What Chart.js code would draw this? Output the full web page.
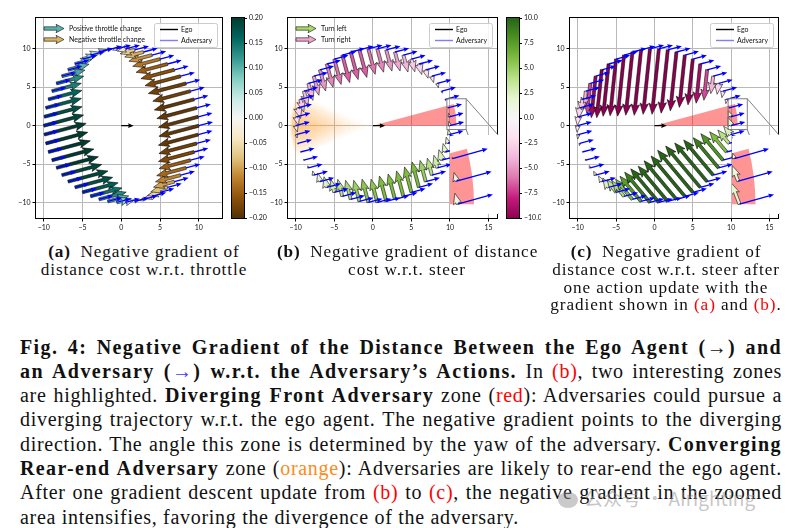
<!DOCTYPE html>
<html><head><meta charset="utf-8">
<script src="https://cdn.jsdelivr.net/npm/chart.js@4.4.0/dist/chart.umd.min.js"></script>
<style>
html,body{margin:0;padding:0;background:#fff;}
#page{position:relative;width:806px;height:528px;overflow:hidden;background:#fff;}
canvas{position:absolute;}
.cap{position:absolute;font-family:'Liberation Serif','Times New Roman',serif;font-size:17.2px;line-height:17.8px;letter-spacing:0.9px;text-align:center;color:#111;white-space:nowrap;}
.para{position:absolute;left:20px;top:334.5px;width:762px;font-family:'Liberation Serif','Times New Roman',serif;font-size:20px;line-height:24.3px;letter-spacing:0.7px;color:#111;}
.para .ln{display:block;white-space:nowrap;}
.para b{letter-spacing:1.4px;}
.red{color:#f00;}
.orange{color:#ff8a1a;}
.blue{color:#3a3aff;}
.wm{position:absolute;left:558px;top:484px;font-family:'Noto Sans CJK SC','Liberation Sans',sans-serif;font-size:19px;color:rgba(150,150,150,0.55);white-space:nowrap;}
.wm i{display:inline-block;width:20px;height:16px;border-radius:50%;background:rgba(150,150,150,0.5);vertical-align:-2px;margin-right:6px;}
</style>
</head><body>
<div id="page">
<canvas id="ca" width="226" height="236" style="left:0;top:0"></canvas>
<canvas id="cba" width="40" height="236" style="left:228px;top:0"></canvas>
<canvas id="cb" width="250" height="236" style="left:252px;top:0"></canvas>
<canvas id="cbb" width="38" height="236" style="left:503px;top:0"></canvas>
<canvas id="cc" width="250" height="236" style="left:534px;top:0"></canvas>
<canvas id="ib" width="48" height="79" style="left:450px;top:135px"></canvas>
<canvas id="ic" width="47" height="79" style="left:732px;top:135px"></canvas>

<div class="cap" style="left:24px;top:243px;width:240px"><b>(a)</b>&ensp;Negative gradient of<br>distance cost w.r.t. throttle</div>
<div class="cap" style="left:277px;top:243px;width:260px"><b>(b)</b>&ensp;Negative gradient of distance<br>cost w.r.t. steer</div>
<div class="cap" style="left:546px;top:243px;width:240px"><b>(c)</b>&ensp;Negative gradient of<br>distance cost w.r.t. steer after<br>one action update with the<br>gradient shown in <span class="red">(a)</span> and <span class="red">(b)</span>.</div>

<div class="para">
<div class="ln j"><span><b>Fig. 4: Negative Gradient of the Distance Between the Ego Agent (→) and</b></span></div>
<div class="ln j"><span><b>an Adversary (<span class="blue">→</span>) w.r.t. the Adversary’s Actions.</b> In <span class="red">(b)</span>, two interesting zones</span></div>
<div class="ln j"><span>are highlighted. <b>Diverging Front Adversary</b> zone (<span class="red">red</span>): Adversaries could pursue a</span></div>
<div class="ln j"><span>diverging trajectory w.r.t. the ego agent. The negative gradient points to the diverging</span></div>
<div class="ln j"><span>direction. The angle this zone is determined by the yaw of the adversary. <b>Converging</b></span></div>
<div class="ln j"><span><b>Rear-end Adversary</b> zone (<span class="orange">orange</span>): Adversaries are likely to rear-end the ego agent.</span></div>
<div class="ln j"><span>After one gradient descent update from <span class="red">(b)</span> to <span class="red">(c)</span>, the negative gradient in the zoomed</span></div>
<div class="ln"><span>area intensifies, favoring the divergence of the adversary.</span></div>
</div>
<div class="wm"><i></i>公众号 · AIrighting</div>
</div>

<script>
// ---------------- data ----------------
const advX = [10.00, 9.93, 9.73, 9.40, 8.94, 8.36, 7.66, 6.86, 5.97, 5.00, 3.96, 2.87, 1.74, 0.58, -0.58, -1.74, -2.87, -3.96, -5.00, -5.97, -6.86, -7.66, -8.36, -8.94, -9.40, -9.73, -9.93, -10.00, -9.93, -9.73, -9.40, -8.94, -8.36, -7.66, -6.86, -5.97, -5.00, -3.96, -2.87, -1.74, -0.58, 0.58, 1.74, 2.87, 3.96, 5.00, 5.97, 6.86, 7.66, 8.36, 8.94, 9.40, 9.73, 9.93];
const advY = [0.00, 1.16, 2.31, 3.42, 4.49, 5.49, 6.43, 7.27, 8.02, 8.66, 9.18, 9.58, 9.85, 9.98, 9.98, 9.85, 9.58, 9.18, 8.66, 8.02, 7.27, 6.43, 5.49, 4.49, 3.42, 2.31, 1.16, 0.00, -1.16, -2.31, -3.42, -4.49, -5.49, -6.43, -7.27, -8.02, -8.66, -9.18, -9.58, -9.85, -9.98, -9.98, -9.85, -9.58, -9.18, -8.66, -8.02, -7.27, -6.43, -5.49, -4.49, -3.42, -2.31, -1.16];
const adversaryYawDeg = 15;
const adversaryArrowLen = 1.9;
const egoArrowLen = 1.6;

const throttleGradA = [-0.19,-0.19,-0.19,-0.19,-0.18,-0.18,-0.17,-0.16,-0.15,-0.13,-0.11,-0.09,-0.07,-0.04,-0.02,0.02,0.04,0.05,0.07,0.08,0.10,0.11,0.13,0.14,0.16,0.17,0.18,0.19,0.20,0.20,0.20,0.20,0.20,0.19,0.19,0.18,0.17,0.15,0.13,0.10,0.07,0.04,0.02,-0.02,-0.04,-0.06,-0.08,-0.10,-0.12,-0.14,-0.15,-0.17,-0.18,-0.19];
const steerGradB = [1.0,0.8,0.1,-0.3,-0.5,-1.0,-1.5,-2.0,-2.5,-3.0,-4.0,-4.5,-5.0,-5.5,-6.0,-6.5,-6.5,-6.5,-6.0,-5.5,-5.0,-4.5,-4.0,-3.5,-3.0,-2.5,-2.0,-1.5,-0.8,-0.2,0.0,0.2,0.5,1.0,2.0,2.5,3.0,4.0,4.5,5.0,5.5,5.5,6.0,6.0,6.0,6.0,6.0,5.0,4.0,3.0,2.5,2.0,1.5,1.2];
const steerGradC = [2.0,1.5,0.5,-1.0,-1.5,-2.5,-4.0,-7.0,-9.0,-10.5,-12.0,-13.5,-14.5,-15.0,-15.0,-15.0,-14.5,-14.0,-13.0,-12.0,-11.0,-9.5,-7.0,-4.0,-3.0,-2.5,-2.0,-1.5,-1.0,-0.5,0.0,0.3,0.6,1.0,1.5,2.5,3.5,4.5,6.0,7.5,9.0,10.0,10.5,11.5,12.0,12.5,12.3,11.5,10.5,9.0,7.9,6.0,4.0,2.5];
const steerDirC = [112,112,110,-100,-100,-98,-98,-96,-96,-96,-96,-96,-96,-96,-96,-96,-96,-96,-96,-96,-96,-96,-96,-96,-96,-96,-96,-96,-96,-96,110,112,115,118,120,122,125,128,130,130,130,130,130,130,130,130,130,130,130,130,130,130,130,130];
const throttleArrowScale = 28;   // data units per gradient unit
const steerArrowScale = 0.57;

const redZone = {radius: 10.85, fromDeg: 0, toDeg: 15};
const orangeZone = {radius: 10.8, centerDeg: 180, halfWidthDeg: 22};
const insetRegion = {xMin: 9.6, xMax: 12.1, yMin: -0.5, yMax: 3.5};

const xTicksA = [-10,-5,0,5,10];
const xTicksBC = [-10,-5,0,5,10,15];
const yTicks = [-10,-5,0,5,10];
const cbTicksA = [-0.2,-0.15,-0.1,-0.05,0,0.05,0.1,0.15,0.2];
const cbTicksB = [-10,-7.5,-5,-2.5,0,2.5,5,7.5,10];

// ---------------- styles ----------------
const BrBG = ['#543005','#8c510a','#bf812d','#dfc27d','#f6e8c3','#f5f5f5','#c7eae5','#80cdc1','#35978f','#01665e','#003c30'];
const PiYG = ['#8e0152','#c51b7d','#de77ae','#f1b6da','#fde0ef','#f7f7f7','#e6f5d0','#b8e186','#7fbc41','#4d9221','#276419'];
const FONT = 'Lato';

function hexRgb(h){return [parseInt(h.substr(1,2),16),parseInt(h.substr(3,2),16),parseInt(h.substr(5,2),16)];}
function cmap(stops,t){
  t=Math.max(0,Math.min(1,t));
  const f=t*(stops.length-1); const i=Math.min(Math.floor(f),stops.length-2); const r=f-i;
  const a=hexRgb(stops[i]), b=hexRgb(stops[i+1]);
  return 'rgb('+a.map((v,k)=>Math.round(v+(b[k]-v)*r)).join(',')+')';
}
function fmt(v,d){const s=(d===undefined?String(Math.abs(v)):Math.abs(v).toFixed(d)); return (v<0?'\u2212':'')+s;}

function drawArrow(ctx,x0,y0,dx,dy,o){
  const L=Math.hypot(dx,dy); if(L<0.4) return;
  const ux=dx/L, uy=dy/L, nx=-uy, ny=ux;
  let sw=o.sw,hw=o.hw,hl=o.hl,ha=o.ha;
  if(L<hl){const s=L/hl; sw*=s; hw*=s; hl*=s; ha*=s;}
  const P=(a,b)=>[x0+ux*a+nx*b, y0+uy*a+ny*b];
  const pts=[P(0,sw/2),P(L-ha,sw/2),P(L-hl,hw/2),P(L,0),P(L-hl,-hw/2),P(L-ha,-sw/2),P(0,-sw/2)];
  ctx.beginPath(); pts.forEach((p,i)=>i?ctx.lineTo(p[0],p[1]):ctx.moveTo(p[0],p[1])); ctx.closePath();
  ctx.fillStyle=o.fill; ctx.fill();
  if(o.stroke){ctx.lineWidth=o.lw; ctx.strokeStyle=o.stroke; ctx.lineJoin='miter'; ctx.stroke();}
}
const gradStyle={sw:3.0,hw:8.5,hl:11,ha:9.5,stroke:'#000',lw:0.55};
const blueStyle={sw:1.3,hw:4.6,hl:5.5,ha:5,fill:'#0000ff'};
const egoStyle={sw:1.3,hw:4.8,hl:5.5,ha:5,fill:'#000'};

function makePlugin(cfg){
  return {
    id:'quiver_'+cfg.name,
    beforeDraw(chart){
      if(cfg.whiteBg){const c=chart.ctx; c.save(); c.fillStyle='#fff'; c.fillRect(0,0,chart.width,chart.height); c.restore();}
    },
    beforeDatasetsDraw(chart){
      const {ctx,chartArea:ca,scales:{x:xs,y:ys}}=chart;
      ctx.save(); ctx.beginPath(); ctx.rect(ca.left,ca.top,ca.right-ca.left,ca.bottom-ca.top); ctx.clip();
      const cx=xs.getPixelForValue(0), cy=ys.getPixelForValue(0);
      if(cfg.orange){
        const z=orangeZone;
        const rx=xs.getPixelForValue(z.radius)-cx, ry=cy-ys.getPixelForValue(z.radius);
        const layers=8;
        for(let i=1;i<=layers;i++){
          const h=z.halfWidthDeg*i/layers*Math.PI/180, c0=z.centerDeg*Math.PI/180;
          const g=ctx.createRadialGradient(cx,cy,0,cx,cy,rx);
          g.addColorStop(0,'rgba(255,160,50,0)');
          g.addColorStop(0.35,'rgba(255,160,50,0.025)');
          g.addColorStop(0.85,'rgba(255,160,50,0.095)');
          g.addColorStop(0.96,'rgba(255,160,50,0.08)');
          g.addColorStop(1,'rgba(255,160,50,0)');
          ctx.beginPath(); ctx.moveTo(cx,cy);
          ctx.ellipse(cx,cy,rx,ry,0,-(c0+h),-(c0-h));
          ctx.closePath(); ctx.fillStyle=g; ctx.fill();
        }
      }
      if(cfg.red){
        const z=redZone;
        const rx=xs.getPixelForValue(z.radius)-cx, ry=cy-ys.getPixelForValue(z.radius);
        ctx.beginPath(); ctx.moveTo(cx,cy);
        ctx.ellipse(cx,cy,rx,ry,0,-z.toDeg*Math.PI/180,-z.fromDeg*Math.PI/180);
        ctx.closePath(); ctx.fillStyle='rgba(255,0,0,0.42)'; ctx.fill();
      }
      ctx.restore();
    },
    afterDatasetsDraw(chart){
      const {ctx,chartArea:ca,scales:{x:xs,y:ys}}=chart;
      const pts=chart.data.datasets[0].data;
      const vec=(x,y,len,deg)=>{const a=deg*Math.PI/180; return [xs.getPixelForValue(x+len*Math.cos(a))-xs.getPixelForValue(x), ys.getPixelForValue(y+len*Math.sin(a))-ys.getPixelForValue(y)];};
      ctx.save(); ctx.beginPath(); ctx.rect(ca.left,ca.top,ca.right-ca.left,ca.bottom-ca.top); ctx.clip();
      pts.forEach((p,i)=>{
        const v=cfg.values[i];
        let dir;
        if(cfg.mode==='throttle') dir = v>=0 ? adversaryYawDeg : adversaryYawDeg+180;
        else if(cfg.mode==='steer') dir = v>=0 ? adversaryYawDeg+90 : adversaryYawDeg-90;
        else dir = cfg.dirs[i];
        const len=Math.abs(v)*cfg.scale;
        const [dx,dy]=vec(p.x,p.y,len,dir);
        const col=cmap(cfg.stops,(v-cfg.vmin)/(cfg.vmax-cfg.vmin));
        drawArrow(ctx,xs.getPixelForValue(p.x),ys.getPixelForValue(p.y),dx,dy,Object.assign({},gradStyle,{fill:col}));
      });
      pts.forEach(p=>{
        const [dx,dy]=vec(p.x,p.y,adversaryArrowLen,adversaryYawDeg);
        drawArrow(ctx,xs.getPixelForValue(p.x),ys.getPixelForValue(p.y),dx,dy,blueStyle);
      });
      {const [dx,dy]=vec(0,0,egoArrowLen,0); drawArrow(ctx,xs.getPixelForValue(0),ys.getPixelForValue(0),dx,dy,egoStyle);}
      ctx.restore();

      ctx.save(); ctx.strokeStyle='#000'; ctx.lineWidth=1;
      ctx.strokeRect(ca.left-0.5,ca.top-0.5,ca.right-ca.left+1,ca.bottom-ca.top+1);
      ctx.restore();
      if(cfg.inset) return;

      if(cfg.insetBox){
        const r=insetRegion, b=cfg.insetBox;
        const x1=xs.getPixelForValue(r.xMin), x2=xs.getPixelForValue(r.xMax), y1=ys.getPixelForValue(r.yMax), y2=ys.getPixelForValue(r.yMin);
        ctx.save(); ctx.strokeStyle='#808080'; ctx.lineWidth=1;
        ctx.strokeRect(x1,y1,x2-x1,y2-y1);
        ctx.beginPath();
        ctx.moveTo(x2,y1); ctx.lineTo(b.left+b.w-cfg.offX, b.top);
        ctx.moveTo(x2,y2); ctx.lineTo(b.left+b.w-cfg.offX, b.top+b.h);
        ctx.stroke(); ctx.restore();
      }
      ctx.save();
      ctx.font='7px '+FONT; ctx.textBaseline='middle'; ctx.fillStyle='#111';
      if(cfg.keys){
        cfg.keys.forEach((k,i)=>{
          const y=ca.top+10.5+i*11;
          drawArrow(ctx,ca.left+8,y,20,0,{sw:3.4,hw:8.5,hl:8,ha:7,fill:k.color,stroke:'#000',lw:0.55});
          ctx.fillStyle='#111'; ctx.fillText(k.label,ca.left+33,y);
        });
      }
      const bx=ca.right-68, by=ca.top+5, bw=63, bh=24;
      ctx.fillStyle='rgba(255,255,255,0.85)'; ctx.strokeStyle='#cccccc'; ctx.lineWidth=1;
      ctx.beginPath(); ctx.roundRect(bx+0.5,by+0.5,bw,bh,2); ctx.fill(); ctx.stroke();
      ctx.lineWidth=1.4;
      ctx.strokeStyle='#000'; ctx.beginPath(); ctx.moveTo(bx+6,by+6.5); ctx.lineTo(bx+24,by+6.5); ctx.stroke();
      ctx.strokeStyle='rgba(40,40,255,0.6)'; ctx.beginPath(); ctx.moveTo(bx+6,by+17.5); ctx.lineTo(bx+24,by+17.5); ctx.stroke();
      ctx.fillStyle='#111';
      ctx.fillText('Ego',bx+27,by+6.5); ctx.fillText('Adversary',bx+27,by+17.5);
      ctx.restore();
    }
  };
}

function axisCfg(min,max,ticks,isX){
  return {
    type:'linear', min, max,
    afterBuildTicks:s=>{s.ticks=ticks.map(v=>({value:v}));},
    afterFit:s=>{ if(isX) s.height=18; else s.width=36; },
    grid:{color:'#b9b9b9',lineWidth:1,tickLength:3.5,tickColor:'#000',tickWidth:1},
    border:{display:false},
    ticks:{font:{family:FONT,size:7},color:'#111',padding:2,maxRotation:0,autoSkip:false,callback:v=>fmt(v)}
  };
}
function posData(){return advX.map((x,i)=>({x,y:advY[i]}));}

function mainChart(id,xmin,xmax,xt,padRight,cfg){
  return new Chart(document.getElementById(id),{
    type:'scatter',
    data:{datasets:[{data:posData(),pointRadius:0,pointHoverRadius:0}]},
    options:{responsive:false,animation:false,devicePixelRatio:1,events:[],
      layout:{padding:{left:0,right:padRight,top:18,bottom:0}},
      plugins:{legend:{display:false},tooltip:{enabled:false}},
      scales:{x:axisCfg(xmin,xmax,xt,true),y:axisCfg(-12,14,yTicks,false)}},
    plugins:[makePlugin(cfg)]
  });
}
function insetChart(id,cfg){
  const r=insetRegion;
  return new Chart(document.getElementById(id),{
    type:'scatter',
    data:{datasets:[{data:posData(),pointRadius:0,pointHoverRadius:0}]},
    options:{responsive:false,animation:false,devicePixelRatio:1,events:[],
      layout:{padding:0},
      plugins:{legend:{display:false},tooltip:{enabled:false}},
      scales:{x:{type:'linear',display:false,min:r.xMin,max:r.xMax},y:{type:'linear',display:false,min:r.yMin,max:r.yMax}}},
    plugins:[makePlugin(Object.assign({},cfg,{inset:true,whiteBg:true}))]
  });
}
function colorbar(id,min,max,ticks,dec,stops,axisW){
  return new Chart(document.getElementById(id),{
    type:'bar',
    data:{labels:['c'],datasets:[{data:[[min,max]],barPercentage:1,categoryPercentage:1,borderWidth:0,
      backgroundColor:(c)=>{const ca=c.chart.chartArea; if(!ca) return '#fff';
        const g=c.chart.ctx.createLinearGradient(0,ca.bottom,0,ca.top);
        stops.forEach((s,i)=>g.addColorStop(i/(stops.length-1),s)); return g;}}]},
    options:{responsive:false,animation:false,devicePixelRatio:1,events:[],
      layout:{padding:{left:4,right:0,top:18,bottom:18}},
      plugins:{legend:{display:false},tooltip:{enabled:false}},
      scales:{x:{display:false},
        y:{position:'right',min,max,
          afterBuildTicks:s=>{s.ticks=ticks.map(v=>({value:v}));},
          afterFit:s=>{s.width=axisW;},
          grid:{drawOnChartArea:false,tickLength:3,tickColor:'#000'},
          border:{display:false},
          ticks:{font:{family:FONT,size:7},color:'#111',padding:2,autoSkip:false,callback:v=>fmt(v,dec)}}}},
    plugins:[{id:'cbframe',afterDatasetsDraw(chart){const {ctx,chartArea:ca}=chart; ctx.save(); ctx.strokeStyle='#000'; ctx.lineWidth=1; ctx.strokeRect(ca.left-0.5,ca.top-0.5,ca.right-ca.left+1,ca.bottom-ca.top+1); ctx.restore();}}]
  });
}

const cfgA={name:'a',mode:'throttle',values:throttleGradA,scale:throttleArrowScale,stops:BrBG,vmin:-0.2,vmax:0.2,
  keys:[{label:'Positive throttle change',color:'#5ab4ac'},{label:'Negative throttle change',color:'#d8b365'}]};
const cfgB={name:'b',mode:'steer',values:steerGradB,scale:steerArrowScale,stops:PiYG,vmin:-10,vmax:10,red:true,orange:true,
  keys:[{label:'Turn left',color:'#a6d96a'},{label:'Turn right',color:'#f1a6cf'}],
  insetBox:{left:450,top:135,w:48,h:79},offX:252};
const cfgC={name:'c',mode:'free',values:steerGradC,dirs:steerDirC,scale:steerArrowScale,stops:PiYG,vmin:-10,vmax:10,red:true,
  insetBox:{left:732,top:135,w:47,h:79},offX:534};

mainChart('ca',-11,13,xTicksA,4,cfgA);
colorbar('cba',-0.2,0.2,cbTicksA,2,BrBG,24);
mainChart('cb',-11,16.1,xTicksBC,5,cfgB);
colorbar('cbb',-10,10,cbTicksB,1,PiYG,22);
mainChart('cc',-11,16.1,xTicksBC,6,cfgC);
insetChart('ib',cfgB);
insetChart('ic',cfgC);

function fitLines(){
  document.querySelectorAll('.para .ln.j').forEach(el=>{
    const sp=el.firstElementChild; sp.style.wordSpacing='0px';
    const w=sp.getBoundingClientRect().width;
    const n=(sp.textContent.match(/ /g)||[]).length;
    if(n>0) sp.style.wordSpacing=((762-w)/n)+'px';
  });
}
fitLines();
if(document.fonts&&document.fonts.ready) document.fonts.ready.then(fitLines);
</script>
</body></html>
